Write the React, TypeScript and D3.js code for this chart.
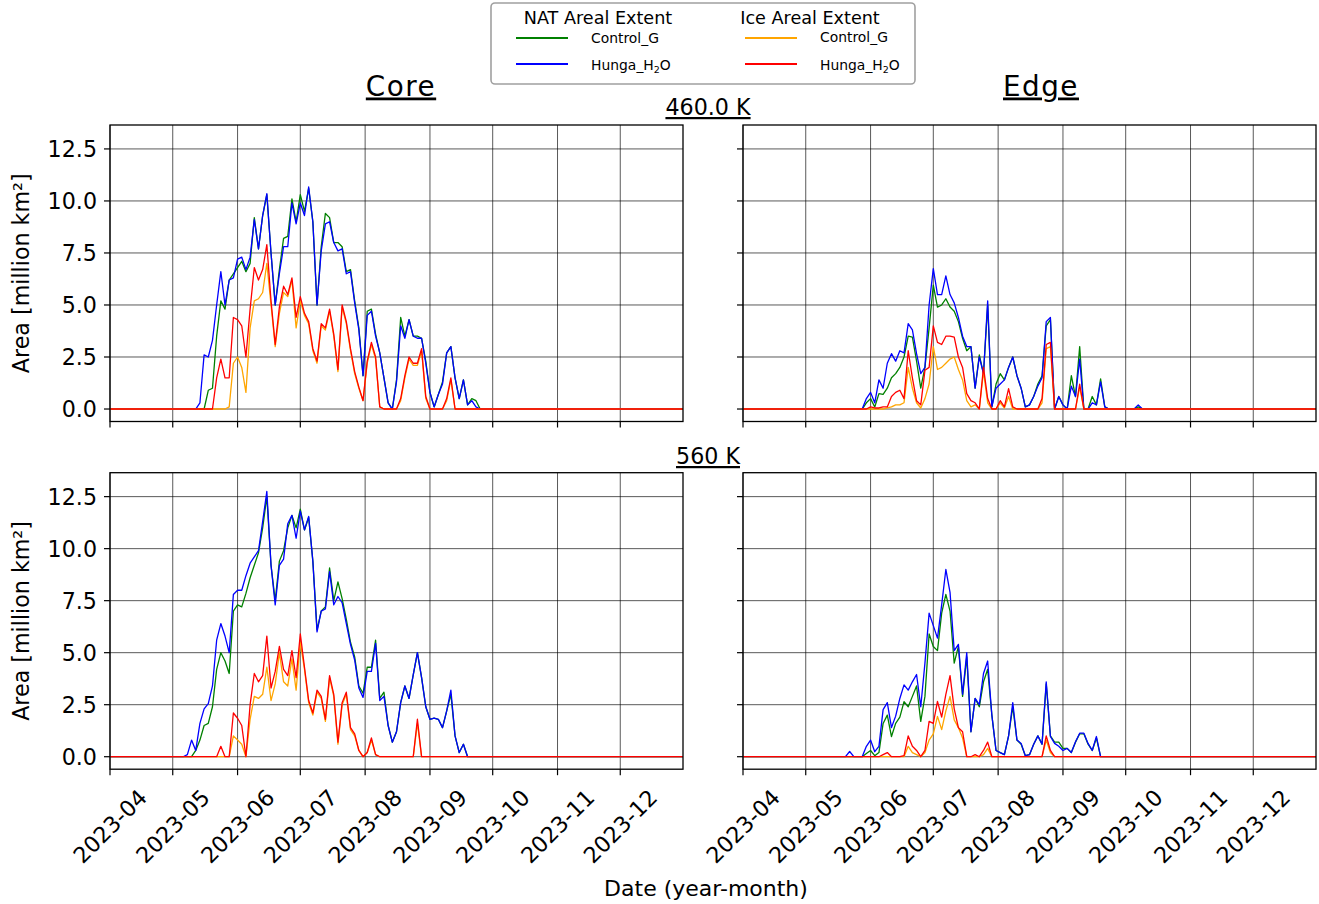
import React from "react";
import * as d3 from "d3";

// ---- data (million km^2) ----
const monthTicks = ["2023-04", "2023-05", "2023-06", "2023-07", "2023-08", "2023-09", "2023-10", "2023-11", "2023-12"];
const yTicks = [0, 2.5, 5, 7.5, 10, 12.5];
const domainStart = "2023-04-01";
const domainEnd = "2023-12-31";
const stepDays = 2;

// 460 K, core
const core460Start = "2023-05-12";
const core460NatControl = [0, 0, 0, 0.9, 1.0, 3.5, 5.2, 4.8, 6.2, 6.5, 6.8, 7.1, 6.6, 7.0, 9.2, 7.7, 9.3, 10.3, 7.5, 5.0, 6.7, 8.2, 8.3, 10.1, 9.0, 10.3, 9.5, 10.6, 9.0, 5.0, 7.8, 9.4, 9.2, 8.0, 8.0, 7.8, 6.6, 6.7, 5.2, 3.9, 1.6, 4.7, 4.8, 3.6, 2.7, 1.5, 0.3, 0, 1.4, 4.4, 3.5, 4.3, 3.5, 3.5, 3.4, 2.3, 0.8, 0.1, 0.7, 1.3, 2.7, 3.0, 1.5, 0.5, 1.4, 0.2, 0.5, 0.4, 0];
const core460NatHunga = [0, 0.3, 2.6, 2.5, 3.3, 5.0, 6.6, 5.0, 6.2, 6.3, 7.2, 7.3, 6.7, 7.3, 9.1, 7.7, 9.3, 10.35, 7.5, 5.0, 6.5, 7.8, 7.8, 9.9, 8.9, 9.9, 9.3, 10.67, 9.0, 5.0, 7.6, 8.9, 9.0, 8.0, 7.6, 7.7, 6.5, 6.6, 5.1, 3.8, 1.6, 4.5, 4.7, 3.5, 2.7, 1.5, 0.3, 0, 1.3, 4.0, 3.4, 4.3, 3.5, 3.4, 3.4, 2.2, 0.8, 0.1, 0.7, 1.2, 2.7, 3.0, 1.5, 0.5, 1.4, 0.2, 0.4, 0.1, 0];
const core460IceControl = [0, 0, 0, 0, 0, 0, 0, 0, 0.1, 2.2, 2.5, 2.0, 0.8, 3.9, 5.2, 5.3, 5.6, 7.0, 5.0, 3.0, 4.6, 5.6, 5.4, 6.2, 3.9, 5.2, 4.5, 4.1, 2.8, 2.2, 4.0, 3.8, 4.7, 3.5, 1.8, 4.9, 4.1, 2.8, 1.7, 1.0, 0.4, 2.2, 3.1, 2.4, 0.1, 0, 0, 0, 0, 0.4, 1.5, 2.4, 2.1, 2.1, 2.8, 0.5, 0, 0, 0, 0, 0.4, 1.4, 0, 0, 0, 0, 0, 0, 0];
const core460IceHunga = [0, 0, 0, 0, 0, 1.5, 2.4, 1.5, 1.5, 4.4, 4.3, 4.0, 2.5, 4.8, 6.8, 6.2, 6.7, 7.9, 5.2, 3.1, 4.9, 5.9, 5.5, 6.3, 4.4, 5.4, 4.6, 4.2, 2.9, 2.3, 4.1, 3.9, 4.8, 3.6, 1.9, 5.0, 4.2, 2.9, 1.8, 1.05, 0.4, 2.3, 3.2, 2.5, 0.1, 0, 0, 0, 0, 0.5, 1.6, 2.5, 2.2, 2.2, 2.9, 0.6, 0, 0, 0, 0, 0.5, 1.5, 0, 0, 0, 0, 0, 0, 0];

// 460 K, edge
const edge460Start = "2023-05-28";
const edge460NatControl = [0, 0.3, 0.5, 0.1, 0.74, 0.7, 1.0, 1.5, 1.7, 2.0, 2.5, 3.5, 3.45, 2.3, 1.0, 2.0, 3.9, 5.95, 4.9, 5.0, 5.3, 4.9, 4.7, 4.2, 3.4, 2.8, 3.0, 1.0, 2.6, 1.7, 5.0, 0.1, 1.2, 1.7, 1.4, 2.0, 2.5, 1.6, 1.0, 0.1, 0.2, 0.6, 1.2, 1.6, 4.0, 4.3, 0, 0.6, 0.2, 0, 1.6, 0.6, 3.0, 0, 0, 0.6, 0.2, 1.45, 0.1, 0, 0, 0, 0, 0, 0, 0, 0.1, 0];
const edge460NatHunga = [0, 0.5, 0.8, 0.3, 1.4, 1.0, 2.2, 2.66, 2.3, 2.8, 2.7, 4.1, 3.8, 2.66, 1.7, 2.0, 5.0, 6.75, 5.5, 5.5, 6.4, 5.5, 5.1, 4.4, 3.5, 3.0, 3.0, 1.0, 2.5, 1.7, 5.2, 0.1, 1.0, 1.2, 1.4, 2.0, 2.5, 1.6, 1.0, 0.1, 0.2, 0.6, 1.1, 1.5, 4.2, 4.4, 0, 0.6, 0.2, 0, 1.1, 0.6, 2.4, 0, 0, 0.3, 0.2, 1.3, 0.1, 0, 0, 0, 0, 0, 0, 0, 0.2, 0];
const edge460IceControl = [0, 0, 0, 0, 0, 0, 0.05, 0.1, 0.2, 0.2, 0.3, 2.0, 1.0, 0.3, 0.05, 0.5, 1.2, 3.0, 1.9, 2.0, 2.2, 2.4, 2.5, 1.9, 1.4, 0.4, 0.1, 0.2, 0, 1.8, 0.3, 0, 0, 0.3, 0.05, 0.6, 0, 0, 0, 0, 0, 0, 0, 0.3, 2.9, 3.0, 0, 0, 0, 0, 0, 0, 1.05, 0, 0, 0, 0, 0, 0, 0, 0, 0, 0, 0, 0, 0, 0, 0];
const edge460IceHunga = [0, 0, 0.1, 0.05, 0.05, 0.1, 0.1, 0.6, 0.8, 0.9, 0.5, 2.8, 1.5, 0.4, 0.2, 1.86, 2.0, 4.0, 3.2, 3.1, 3.5, 3.5, 3.45, 2.5, 2.0, 0.74, 0.4, 0.3, 0, 2.0, 0.5, 0, 0, 0.4, 0.1, 0.98, 0.1, 0, 0, 0, 0, 0, 0, 0.5, 3.1, 3.2, 0, 0, 0, 0, 0, 0, 1.2, 0, 0, 0, 0, 0, 0, 0, 0, 0, 0, 0, 0, 0, 0, 0];

// 560 K, core
const core560Start = "2023-05-06";
const core560NatControl = [0, 0, 0, 0.3, 0.8, 1.5, 1.6, 2.4, 4.2, 5.0, 4.6, 4.0, 7.0, 7.3, 7.2, 7.85, 8.6, 9.2, 9.8, 11.0, 12.5, 9.2, 7.5, 9.4, 9.9, 11.0, 11.6, 11.0, 11.9, 10.9, 11.5, 9.4, 6.1, 7.0, 7.2, 9.07, 7.5, 8.4, 7.6, 6.6, 5.5, 4.8, 3.4, 3.05, 4.3, 4.3, 5.6, 2.8, 3.1, 1.5, 0.7, 1.2, 2.6, 3.4, 2.8, 3.93, 5.0, 3.8, 2.4, 1.8, 1.85, 1.8, 1.4, 2.2, 3.0, 1.0, 0.2, 0.6, 0, 0];
const core560NatHunga = [0, 0.1, 0.8, 0.3, 1.6, 2.3, 2.55, 3.4, 5.6, 6.4, 5.8, 5.0, 7.8, 8.0, 8.0, 8.7, 9.3, 9.6, 9.9, 11.3, 12.75, 9.2, 7.3, 9.2, 9.5, 11.2, 11.6, 10.5, 11.8, 10.9, 11.55, 9.4, 6.0, 7.0, 7.1, 8.9, 7.3, 7.7, 7.4, 6.4, 5.4, 4.65, 3.3, 2.85, 4.1, 4.1, 5.45, 2.7, 2.9, 1.5, 0.7, 1.2, 2.6, 3.4, 2.8, 3.93, 5.0, 3.8, 2.4, 1.8, 1.85, 1.8, 1.4, 2.2, 3.2, 1.0, 0.2, 0.6, 0, 0];
const core560IceControl = [0, 0, 0, 0, 0, 0, 0, 0, 0, 0, 0, 0, 1.0, 0.8, 0.6, 0, 1.8, 2.9, 2.8, 3.0, 4.3, 2.7, 3.5, 5.0, 3.6, 3.4, 4.7, 3.2, 5.5, 4.2, 2.6, 2.0, 3.1, 2.8, 1.7, 3.8, 2.9, 0.6, 2.5, 3.0, 1.3, 1.0, 0.3, 0, 0.2, 0.8, 0.1, 0, 0, 0, 0, 0, 0, 0, 0, 0, 1.6, 0, 0, 0, 0, 0, 0, 0, 0, 0, 0, 0, 0, 0];
const core560IceHunga = [0, 0, 0, 0, 0, 0, 0, 0, 0, 0.5, 0, 0, 2.1, 1.85, 1.5, 0, 2.5, 4.0, 3.6, 3.9, 5.8, 3.3, 4.1, 5.3, 4.2, 3.9, 5.1, 3.8, 5.9, 4.3, 2.7, 2.1, 3.2, 2.9, 1.8, 3.9, 3.0, 0.7, 2.6, 3.1, 1.4, 1.1, 0.3, 0, 0.2, 0.9, 0.1, 0, 0, 0, 0, 0, 0, 0, 0, 0, 1.8, 0, 0, 0, 0, 0, 0, 0, 0, 0, 0, 0, 0, 0];

// 560 K, edge
const edge560Start = "2023-05-20";
const edge560NatControl = [0, 0, 0, 0, 0, 0.15, 0.3, 0.05, 0.2, 1.6, 2.0, 0.97, 1.6, 1.9, 2.65, 2.4, 2.9, 3.4, 1.7, 2.9, 5.9, 5.3, 5.1, 6.9, 7.8, 7.0, 4.5, 5.3, 2.9, 4.8, 1.2, 2.8, 2.4, 3.6, 4.2, 2.0, 0.3, 0.2, 0.1, 1.0, 2.4, 0.8, 0.6, 0.05, 0.1, 0.6, 1.0, 0.6, 3.5, 1.0, 0.7, 0.7, 0.4, 0.4, 0.2, 0.7, 1.1, 1.1, 0.6, 0.3, 0.9, 0, 0];
const edge560NatHunga = [0, 0.25, 0, 0, 0, 0.5, 0.8, 0.24, 0.5, 2.26, 2.6, 1.4, 1.95, 2.8, 3.45, 3.2, 3.6, 3.95, 2.4, 4.5, 6.9, 6.3, 5.7, 7.3, 9.0, 7.9, 5.1, 5.4, 3.0, 5.0, 1.2, 2.8, 2.5, 4.0, 4.6, 2.0, 0.3, 0.2, 0.1, 1.0, 2.6, 0.8, 0.64, 0.05, 0.1, 0.6, 1.0, 0.6, 3.6, 0.97, 0.64, 0.5, 0.3, 0.4, 0.2, 0.72, 1.13, 1.13, 0.64, 0.3, 0.97, 0, 0];
const edge560IceControl = [0, 0, 0, 0, 0, 0, 0, 0, 0, 0, 0, 0, 0, 0, 0, 0.5, 0.2, 0.1, 0, 0.2, 0.8, 1.1, 1.94, 1.3, 2.2, 2.9, 1.77, 1.4, 0.9, 0, 0, 0, 0, 0.1, 0.4, 0, 0, 0, 0, 0, 0, 0, 0, 0, 0, 0, 0, 0, 0.8, 0.2, 0, 0, 0, 0, 0, 0, 0, 0, 0, 0, 0, 0, 0];
const edge560IceHunga = [0, 0, 0, 0, 0, 0, 0, 0, 0, 0.1, 0.2, 0, 0, 0, 0.05, 1.0, 0.5, 0.3, 0, 0.3, 1.7, 1.6, 2.66, 1.9, 3.0, 3.9, 2.3, 1.4, 1.2, 0, 0, 0.1, 0, 0.3, 0.7, 0, 0, 0, 0, 0, 0, 0, 0, 0, 0, 0, 0, 0, 1.0, 0.3, 0, 0, 0, 0, 0, 0, 0, 0, 0, 0, 0, 0, 0];

const seriesColors = { natControl: "green", natHunga: "blue", iceControl: "orange", iceHunga: "red" };

// ---- helpers ----
const parseDay = (s: string) => new Date(s + "T00:00:00Z");

type Pt = { date: Date; v: number };

function buildSeries(start: string, values: number[]): Pt[] {
  const t0 = parseDay(start);
  const pts = values.map((v, i) => ({ date: d3.utcDay.offset(t0, i * stepDays), v }));
  return [{ date: parseDay(domainStart), v: 0 }, ...pts, { date: parseDay(domainEnd), v: 0 }];
}

const FONT = "DejaVu Sans, Liberation Sans, sans-serif";

type PanelProps = {
  x0: number; x1: number; y0: number; y1: number;
  start: string;
  data: { natControl: number[]; natHunga: number[]; iceControl: number[]; iceHunga: number[] };
  xLabels: boolean; yLabels: boolean;
};

function Panel({ x0, x1, y0, y1, start, data, xLabels, yLabels }: PanelProps) {
  const x = d3.scaleUtc().domain([parseDay(domainStart), parseDay(domainEnd)]).range([x0, x1]);
  const y = d3.scaleLinear().domain([-0.6, 13.65]).range([y1, y0]);
  const line = d3.line<Pt>().x(d => x(d.date)).y(d => y(d.v));
  const order: (keyof typeof seriesColors)[] = ["natControl", "natHunga", "iceControl", "iceHunga"];
  const clipId = `clip-${x0}-${Math.round(y0)}`;
  return (
    <g>
      <defs>
        <clipPath id={clipId}>
          <rect x={x0} y={y0} width={x1 - x0} height={y1 - y0} />
        </clipPath>
      </defs>
      {/* grid */}
      <g stroke="#000" strokeWidth={1} strokeOpacity={0.65}>
        {monthTicks.map(m => (
          <line key={m} x1={x(parseDay(m + "-01"))} x2={x(parseDay(m + "-01"))} y1={y0} y2={y1} />
        ))}
        {yTicks.map(t => (
          <line key={t} x1={x0} x2={x1} y1={y(t)} y2={y(t)} />
        ))}
      </g>
      {/* series */}
      <g clipPath={`url(#${clipId})`} fill="none" strokeWidth={1.3} strokeLinejoin="round">
        {order.map(k => (
          <path key={k} d={line(buildSeries(start, data[k])) || ""} stroke={seriesColors[k]} />
        ))}
      </g>
      {/* frame */}
      <rect x={x0} y={y0} width={x1 - x0} height={y1 - y0} fill="none" stroke="#000" strokeWidth={1.3} />
      {/* ticks */}
      <g stroke="#000" strokeWidth={1.2}>
        {monthTicks.map(m => (
          <line key={m} x1={x(parseDay(m + "-01"))} x2={x(parseDay(m + "-01"))} y1={y1} y2={y1 + 6} />
        ))}
        {yTicks.map(t => (
          <line key={t} x1={x0 - 6} x2={x0} y1={y(t)} y2={y(t)} />
        ))}
      </g>
      {yLabels && (
        <g fontFamily={FONT} fontSize={22.2} textAnchor="end" fill="#000">
          {yTicks.map(t => (
            <text key={t} x={x0 - 13} y={y(t)} dy="0.36em">{d3.format(".1f")(t)}</text>
          ))}
        </g>
      )}
      {xLabels && (
        <g fontFamily={FONT} fontSize={22.2} textAnchor="middle" fill="#000">
          {monthTicks.map(m => {
            const cx = x(parseDay(m + "-01"));
            const cy = y1 + 57;
            return (
              <text key={m} x={cx} y={cy} dy="0.36em" transform={`rotate(-45 ${cx} ${cy})`}>{m}</text>
            );
          })}
        </g>
      )}
    </g>
  );
}

function Legend() {
  const fs = 13.9;
  return (
    <g fontFamily={FONT}>
      <rect x={491} y={3} width={424} height={81} rx={4} fill="#fff" stroke="#a0a0a0" strokeWidth={1.6} />
      <text x={598} y={24} fontSize={17.6} textAnchor="middle">NAT Areal Extent</text>
      <text x={810} y={24} fontSize={17.6} textAnchor="middle">Ice Areal Extent</text>
      <line x1={516} x2={568} y1={38} y2={38} stroke={seriesColors.natControl} strokeWidth={1.8} />
      <line x1={516} x2={568} y1={64} y2={64} stroke={seriesColors.natHunga} strokeWidth={1.8} />
      <line x1={745} x2={797} y1={38} y2={38} stroke={seriesColors.iceControl} strokeWidth={1.8} />
      <line x1={745} x2={797} y1={64} y2={64} stroke={seriesColors.iceHunga} strokeWidth={1.8} />
      <text x={591} y={43} fontSize={fs}>Control_G</text>
      <text x={591} y={70} fontSize={fs}>Hunga_H<tspan fontSize={9.5} dy={3}>2</tspan><tspan dy={-3}>O</tspan></text>
      <text x={820} y={42} fontSize={fs}>Control_G</text>
      <text x={820} y={70} fontSize={fs}>Hunga_H<tspan fontSize={9.5} dy={3}>2</tspan><tspan dy={-3}>O</tspan></text>
    </g>
  );
}

export default function App() {
  const L = { x0: 110, x1: 683 };
  const R = { x0: 743, x1: 1316 };
  const T = { y0: 125, y1: 421.5 };
  const B = { y0: 472.7, y1: 769.2 };
  return (
    <svg width={1319} height={904} style={{ position: "absolute", left: 0, top: 0, background: "#fff" }}>
      <rect width={1319} height={904} fill="#fff" />
      <Panel {...L} {...T} start={core460Start} xLabels={false} yLabels={true}
        data={{ natControl: core460NatControl, natHunga: core460NatHunga, iceControl: core460IceControl, iceHunga: core460IceHunga }} />
      <Panel {...R} {...T} start={edge460Start} xLabels={false} yLabels={false}
        data={{ natControl: edge460NatControl, natHunga: edge460NatHunga, iceControl: edge460IceControl, iceHunga: edge460IceHunga }} />
      <Panel {...L} {...B} start={core560Start} xLabels={true} yLabels={true}
        data={{ natControl: core560NatControl, natHunga: core560NatHunga, iceControl: core560IceControl, iceHunga: core560IceHunga }} />
      <Panel {...R} {...B} start={edge560Start} xLabels={true} yLabels={false}
        data={{ natControl: edge560NatControl, natHunga: edge560NatHunga, iceControl: edge560IceControl, iceHunga: edge560IceHunga }} />

      <g fontFamily={FONT} fill="#000">
        <text x={401} y={95.5} fontSize={27.8} textAnchor="middle" letterSpacing={1.5} style={{ textDecoration: "underline" }}>Core</text>
        <text x={1041} y={95.5} fontSize={27.8} textAnchor="middle" letterSpacing={1.5} style={{ textDecoration: "underline" }}>Edge</text>
        <text x={708} y={115} fontSize={22.2} textAnchor="middle" style={{ textDecoration: "underline" }}>460.0 K</text>
        <text x={708} y={464} fontSize={22.2} textAnchor="middle" style={{ textDecoration: "underline" }}>560 K</text>
        <text transform={`translate(29,${(T.y0 + T.y1) / 2}) rotate(-90)`} fontSize={22.2} textAnchor="middle">Area [million km²]</text>
        <text transform={`translate(29,${(B.y0 + B.y1) / 2}) rotate(-90)`} fontSize={22.2} textAnchor="middle">Area [million km²]</text>
        <text x={706} y={896} fontSize={22} textAnchor="middle">Date (year-month)</text>
      </g>
      <Legend />
    </svg>
  );
}
